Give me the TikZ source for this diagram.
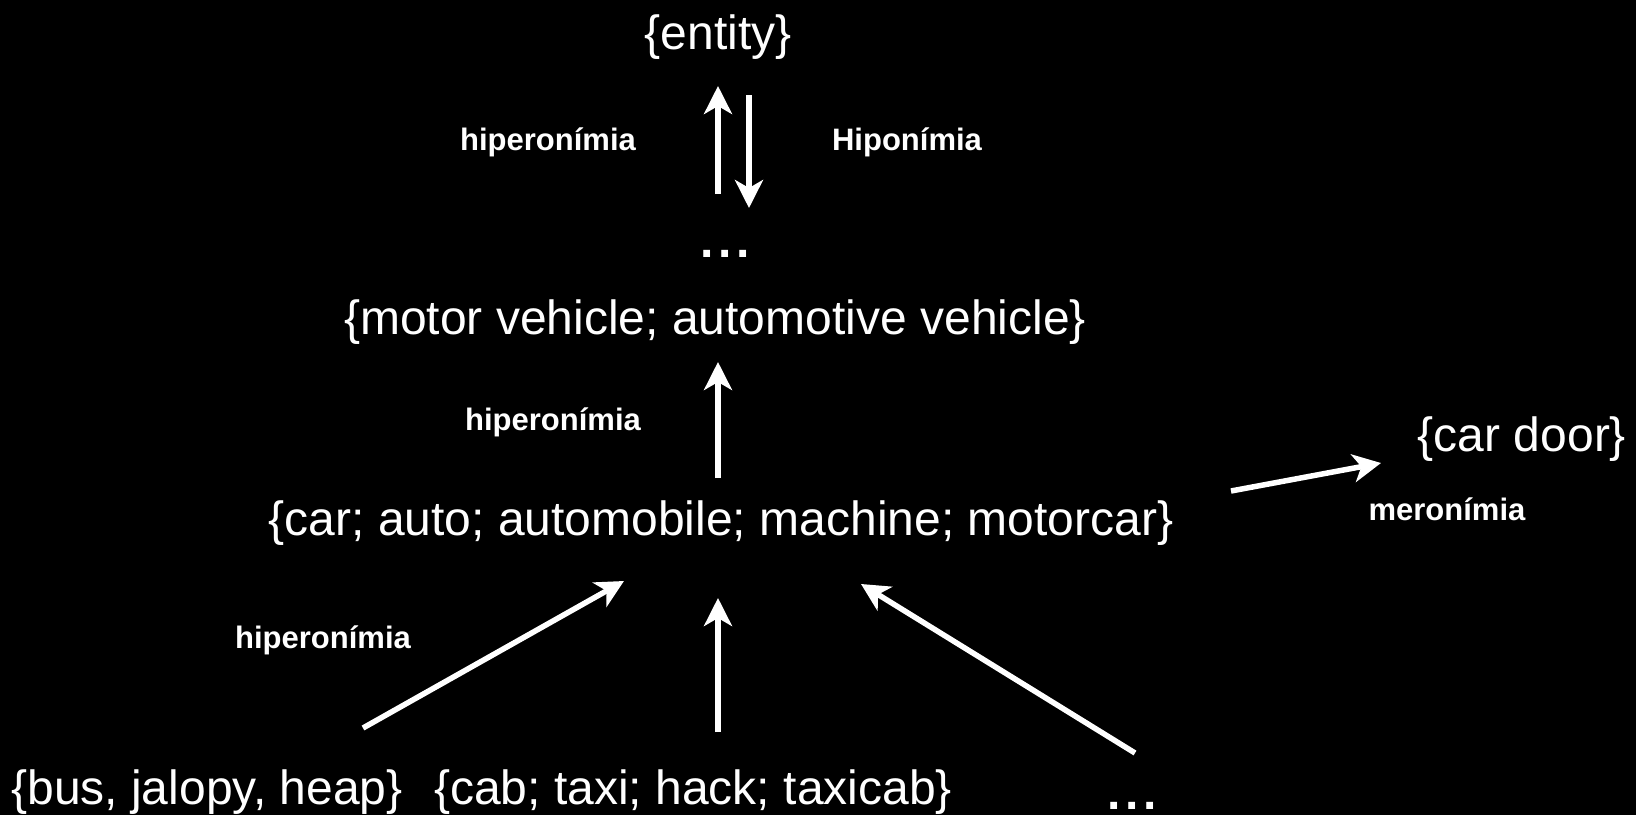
\documentclass[tikz,border=0pt]{standalone}
\usepackage{fontspec}
\setmainfont{Liberation Sans}
\usetikzlibrary{arrows.meta}

\tikzset{
  synset/.style={text=white, inner sep=0pt, font=\fontsize{48}{56}\selectfont},
  rel/.style={text=white, inner sep=0pt, font=\fontsize{31}{37}\selectfont\bfseries},
  arr/.style={draw=white, line width=5.5pt, -{Stealth[length=28pt, width=28pt, inset=8pt]}}
}
\newcommand{\moredots}{\textbf{.\hspace{4.5pt}.\hspace{4.5pt}.}}

\begin{document}
\begin{tikzpicture}[x=1pt, y=-1pt]
                \fill[black] (0,0) rectangle (1636,815);
                \useasboundingbox (0,0) rectangle (1636,815);

                % synsets
                \node[synset] (entity) at (718, 37) {\{entity\}};
                \node[synset, anchor=base] (dotsTop) at (725, 257) {\moredots};
                \node[synset] (motor) at (715, 322) {\{motor vehicle; automotive vehicle\}};
                \node[synset] (car) at (721, 523) {\{car; auto; automobile; machine; motorcar\}};
                \node[synset] (door) at (1522, 439) {\{car door\}};
                \node[synset] (bus) at (207, 792) {\{bus, jalopy, heap\}};
                \node[synset] (cab) at (693, 792) {\{cab; taxi; hack; taxicab\}};
                \node[synset, anchor=base] (dotsBot) at (1132, 809) {\moredots};

                % relation labels
                \node[rel] (hypA) at (548, 142) {hiperonímia};
                \node[rel] (hypo) at (907, 142) {Hiponímia};
                \node[rel] (hypB) at (553, 422) {hiperonímia};
                \node[rel] (mero) at (1447, 509) {meronímia};
                \node[rel] (hypC) at (323, 640) {hiperonímia};

                % arrow ends
                \coordinate (upS) at (718, 194);
                \coordinate (upE) at (718, 86);
                \coordinate (dnS) at (749, 95);
                \coordinate (dnE) at (749, 208);
                \coordinate (carUpS) at (718, 478);
                \coordinate (carUpE) at (718, 362);
                \coordinate (meroS) at (1231, 491);
                \coordinate (meroE) at (1381, 463);
                \coordinate (busS) at (363, 728);
                \coordinate (busE) at (624, 581);
                \coordinate (cabS) at (718, 732);
                \coordinate (cabE) at (718, 598);
                \coordinate (dotsS) at (1135, 753);
                \coordinate (dotsE) at (861, 584);

                \draw[arr] (upS) -- (upE);
                \draw[arr] (dnS) -- (dnE);
                \draw[arr] (carUpS) -- (carUpE);
                \draw[arr] (meroS) -- (meroE);
                \draw[arr] (busS) -- (busE);
                \draw[arr] (cabS) -- (cabE);
                \draw[arr] (dotsS) -- (dotsE);
            \end{tikzpicture}
\end{document}
